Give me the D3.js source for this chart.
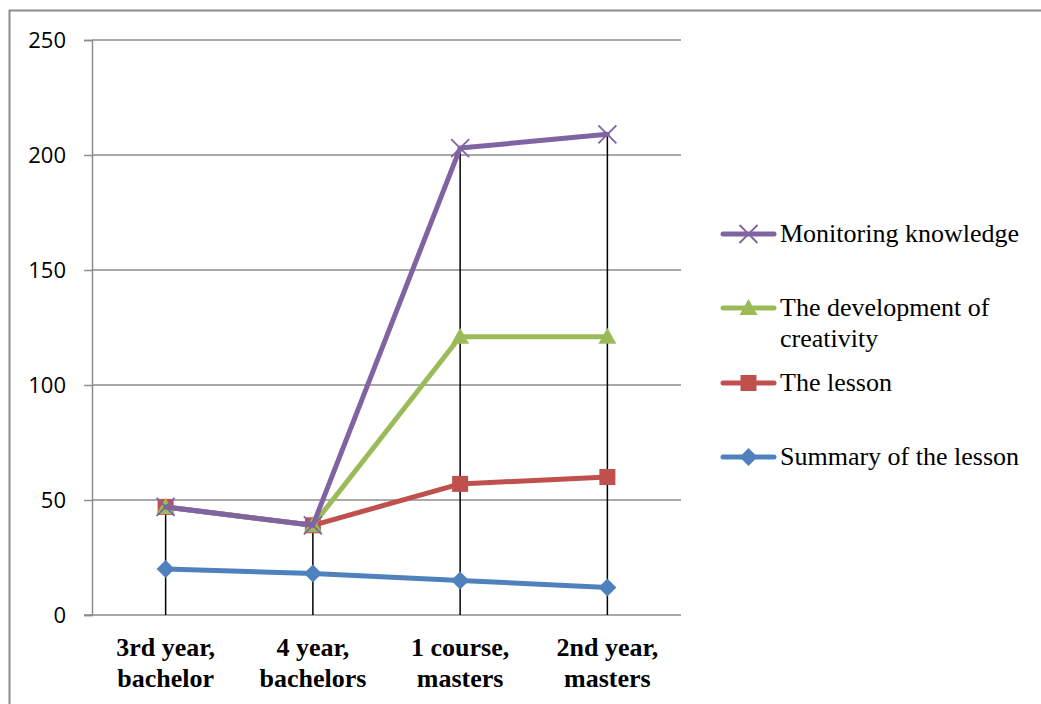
<!DOCTYPE html>
<html>
<head>
<meta charset="utf-8">
<script src="https://cdn.jsdelivr.net/npm/d3@7"></script>
<style>
  html, body { margin: 0; padding: 0; background: #fff; }
  svg { display: block; }
</style>
</head>
<body>
<svg id="chart" width="1041" height="704"></svg>
<script>
// Category labels (two lines each)
const categories = [
  ["3rd year,", "bachelor"],
  ["4 year,", "bachelors"],
  ["1 course,", "masters"],
  ["2nd year,", "masters"]
];
const yTicks = [0, 50, 100, 150, 200, 250];

// Series values, in drawing order
const summaryOfLesson = [20, 18, 15, 12];
const theLesson = [47, 39, 57, 60];
const developmentOfCreativity = [47, 39, 121, 121];
const monitoringKnowledge = [47, 39, 203, 209];

const series = [
  { name: ["Summary of the lesson"], values: summaryOfLesson, color: "#4F81BD", marker: "diamond" },
  { name: ["The lesson"], values: theLesson, color: "#C0504D", marker: "square" },
  { name: ["The development of", "creativity"], values: developmentOfCreativity, color: "#9BBB59", marker: "triangle" },
  { name: ["Monitoring knowledge"], values: monitoringKnowledge, color: "#8064A2", marker: "cross" }
];

const svg = d3.select("#chart");
const plot = { left: 92, right: 681, top: 40, bottom: 615 };

// Outer frame
svg.append("rect")
  .attr("x", 9.5).attr("y", 10.5)
  .attr("width", 1100).attr("height", 800)
  .attr("fill", "none").attr("stroke", "#8c8c8c").attr("stroke-width", 2);

const x = d3.scaleBand()
  .domain(d3.range(categories.length))
  .range([plot.left, plot.right]);
const y = d3.scaleLinear().domain([0, 250]).range([plot.bottom, plot.top]);
const cx = i => x(i) + x.bandwidth() / 2;

// Horizontal gridlines
svg.append("g").selectAll("line").data(yTicks.filter(t => t > 0)).join("line")
  .attr("x1", plot.left).attr("x2", plot.right)
  .attr("y1", d => y(d)).attr("y2", d => y(d))
  .attr("stroke", "#8c8c8c").attr("stroke-width", 1.5);

// Y axis with left-pointing ticks
const yAxis = d3.axisLeft(y).tickValues(yTicks).tickSize(8).tickPadding(18).tickFormat(d3.format("d"));
const gy = svg.append("g").attr("transform", `translate(${plot.left},0)`).call(yAxis);
gy.select(".domain").attr("stroke", "#8c8c8c").attr("stroke-width", 1.5);
gy.selectAll(".tick line").attr("stroke", "#8c8c8c").attr("stroke-width", 1.5);
gy.selectAll(".tick text")
  .attr("font-family", "'Open Sans', 'Liberation Sans', sans-serif")
  .attr("font-size", 22).attr("fill", "#000");

// X axis baseline
svg.append("line")
  .attr("x1", plot.left - 8).attr("x2", plot.right)
  .attr("y1", y(0)).attr("y2", y(0))
  .attr("stroke", "#8c8c8c").attr("stroke-width", 1.5);

// Drop lines from the highest point of each category to the axis
svg.append("g").selectAll("line").data(categories.map((c, i) => i)).join("line")
  .attr("x1", cx).attr("x2", cx)
  .attr("y1", i => y(d3.max(series, s => s.values[i])))
  .attr("y2", y(0))
  .attr("stroke", "#000").attr("stroke-width", 1.5);

// Category labels
const xl = svg.append("g");
categories.forEach((lines, i) => {
  const t = xl.append("text")
    .attr("x", cx(i)).attr("y", 656)
    .attr("text-anchor", "middle")
    .attr("font-family", "'Liberation Serif', 'Times New Roman', serif")
    .attr("font-weight", "bold").attr("font-size", 26).attr("fill", "#000");
  lines.forEach((ln, k) => t.append("tspan").attr("x", cx(i)).attr("dy", k ? 31 : 0).text(ln));
});

// Marker drawing
function drawMarker(g, type, px, py, color) {
  if (type === "diamond") {
    g.append("path").attr("d", `M${px},${py - 9}L${px + 9},${py}L${px},${py + 9}L${px - 9},${py}Z`).attr("fill", color);
  } else if (type === "square") {
    g.append("rect").attr("x", px - 8).attr("y", py - 8).attr("width", 16).attr("height", 16).attr("fill", color);
  } else if (type === "triangle") {
    g.append("path").attr("d", `M${px},${py - 9}L${px + 9},${py + 7}L${px - 9},${py + 7}Z`).attr("fill", color);
  } else if (type === "cross") {
    g.append("path").attr("d", `M${px - 9},${py - 9}L${px + 9},${py + 9}M${px - 9},${py + 9}L${px + 9},${py - 9}`)
      .attr("stroke", color).attr("stroke-width", 1.8).attr("fill", "none");
  }
}

// Series lines and markers
const line = d3.line().x((d, i) => cx(i)).y(d => y(d));
series.forEach(s => {
  const g = svg.append("g");
  g.append("path").datum(s.values).attr("d", line)
    .attr("fill", "none").attr("stroke", s.color).attr("stroke-width", 5)
    .attr("stroke-linejoin", "round").attr("stroke-linecap", "round");
  s.values.forEach((v, i) => drawMarker(g, s.marker, cx(i), y(v), s.color));
});

// Legend (reverse order, top to bottom)
const legendRows = [
  { s: series[3], y: 234 },
  { s: series[2], y: 308 },
  { s: series[1], y: 383 },
  { s: series[0], y: 457 }
];
const lg = svg.append("g");
legendRows.forEach(r => {
  lg.append("line").attr("x1", 723).attr("x2", 774).attr("y1", r.y).attr("y2", r.y)
    .attr("stroke", r.s.color).attr("stroke-width", 5).attr("stroke-linecap", "round");
  drawMarker(lg, r.s.marker, 748.5, r.y, r.s.color);
  const t = lg.append("text").attr("x", 780).attr("y", r.y + 8)
    .attr("font-family", "'Liberation Serif', 'Times New Roman', serif")
    .attr("font-size", 26).attr("fill", "#000");
  r.s.name.forEach((ln, k) => t.append("tspan").attr("x", 780).attr("dy", k ? 31 : 0).text(ln));
});
</script>
</body>
</html>
